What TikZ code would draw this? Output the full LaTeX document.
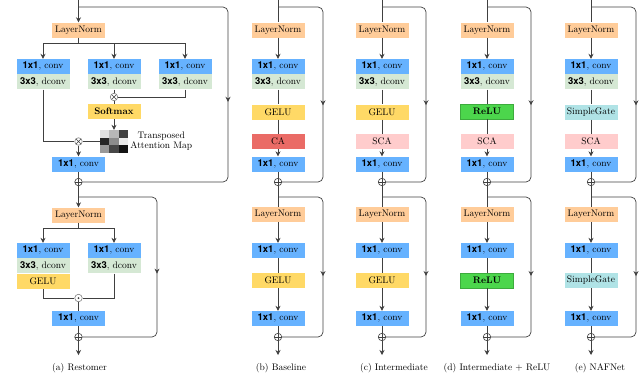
\documentclass[tikz,border=0pt]{standalone}
\usepackage{fontspec}
\usetikzlibrary{arrows.meta, positioning, decorations.markings}

\newfontfamily\herosfont{TeX Gyre Heros}

\definecolor{lnorm}{HTML}{FFCC99}
\definecolor{conv}{HTML}{66B2FF}
\definecolor{dconv}{HTML}{D5E8D4}
\definecolor{gelu}{HTML}{FFD966}
\definecolor{cablk}{HTML}{EA6B66}
\definecolor{scablk}{HTML}{FFCCCC}
\definecolor{relu}{HTML}{4CD64C}
\definecolor{sgate}{HTML}{B0E3E6}
\definecolor{wire}{HTML}{404040}

\newcommand{\convtxt}{{\herosfont\bfseries 1x1}, conv}
\newcommand{\dconvtxt}{{\herosfont\bfseries 3x3}, dconv}

\begin{document}
\begin{tikzpicture}[x=1pt, y=-1pt, font=\fontsize{9.5}{10}\selectfont,
        blk/.style={rectangle, minimum width=53pt, minimum height=15pt, inner sep=0pt},
        lnb/.style={blk, fill=lnorm},
        cvb/.style={blk, fill=conv},
        dcb/.style={blk, fill=dconv},
        glb/.style={blk, fill=gelu},
        cab/.style={blk, fill=cablk},
        scb/.style={blk, fill=scablk},
        rlb/.style={blk, fill=relu, draw=relu!80!black, line width=0.4pt,
                    font=\fontsize{9.5}{10}\selectfont\bfseries},
        sgb/.style={blk, fill=sgate},
        link/.style={draw=wire, line width=0.7pt},
        flow/.style={link, -{Stealth[length=5pt, width=5pt]}},
        bypass/.style={link, rounded corners=5pt, postaction={decorate},
                       decoration={markings, mark=at position #1 with
                                   {\arrow[wire]{Stealth[length=5pt, width=5pt]}}}},
        addop/.style={circle, draw=wire, line width=0.6pt, fill=white,
                      minimum size=7.5pt, inner sep=0pt,
                      path picture={\draw[wire, line width=0.6pt]
                        (path picture bounding box.north) -- (path picture bounding box.south)
                        (path picture bounding box.west) -- (path picture bounding box.east);}},
        mulop/.style={circle, draw=gray, line width=0.6pt, fill=white,
                      minimum size=7.5pt, inner sep=0pt,
                      path picture={\draw[wire, line width=0.6pt]
                        (path picture bounding box.north west) -- (path picture bounding box.south east)
                        (path picture bounding box.south west) -- (path picture bounding box.north east);}},
        dotop/.style={circle, draw=gray, line width=0.6pt, fill=white,
                      minimum size=7.5pt, inner sep=0pt,
                      path picture={\fill[wire] (path picture bounding box.center) circle (1pt);}}]
      \useasboundingbox (0,0) rectangle (640,389);

      % (a) Restomer, upper block
      \coordinate (ain) at (78.5,0);
      \coordinate (as1) at (78.5,7);
      \node[lnb] (aln1) at (78.5,30) {LayerNorm};
      \node[cvb] (ac1) at (43,66.5) {\convtxt};
      \node[dcb, below=0pt of ac1] (ad1) {\dconvtxt};
      \node[cvb] (ac2) at (114,66.5) {\convtxt};
      \node[dcb, below=0pt of ac2] (ad2) {\dconvtxt};
      \node[cvb] (ac3) at (185,66.5) {\convtxt};
      \node[dcb, below=0pt of ac3] (ad3) {\dconvtxt};
      \node[mulop] (ax1) at (114,97) {};
      \node[glb, font=\fontsize{9.5}{10}\selectfont\bfseries] (asm) at (114,111.5) {Softmax};
      \node[minimum width=28pt, minimum height=23pt, inner sep=0pt] (amap) at (114,141.5) {};
      \fill[black!12] (100,130) rectangle ++(9.33,7.67);
      \fill[black!28] (109.33,130) rectangle ++(9.33,7.67);
      \fill[black!75] (118.67,130) rectangle ++(9.33,7.67);
      \fill[black!85] (100,137.67) rectangle ++(9.33,7.67);
      \fill[black!45] (109.33,137.67) rectangle ++(9.33,7.67);
      \fill[black!8] (118.67,137.67) rectangle ++(9.33,7.67);
      \fill[black!40] (100,145.33) rectangle ++(9.33,7.67);
      \fill[black!72] (109.33,145.33) rectangle ++(9.33,7.67);
      \fill[black!92] (118.67,145.33) rectangle ++(9.33,7.67);
      \node[right=2pt of amap, align=center, inner sep=0pt] (amaplab) {Transposed\\Attention Map};
      \node[mulop] (ax2) at (78.5,141.5) {};
      \node[cvb] (ac4) at (78.5,164) {\convtxt};
      \node[addop] (ap1) at (78.5,182) {};
      \draw[flow] (ain) -- (aln1);
      \draw[link] (aln1) -- ++(0,13) coordinate (abr1);
      \draw[flow] (abr1) -| (ac1);
      \draw[flow] (abr1) -| (ac2);
      \draw[flow] (abr1) -| (ac3);
      \draw[link] (ad2) -- (ax1);
      \draw[link] (ad3) |- (ax1);
      \draw[link] (ax1) -- (asm);
      \draw[flow] (asm) -- (amap);
      \draw[link] (ad1) |- (ax2);
      \draw[link] (amap) -- (ax2);
      \draw[flow] (ax2) -- (ac4);
      \draw[link] (ac4) -- (ap1);
      \draw[bypass=0.52] (as1) -- ++(149.5,0) |- (ap1);

      % (a) Restomer, lower block
      \coordinate (as2) at (78.5,197);
      \node[lnb] (aln2) at (78.5,215) {LayerNorm};
      \node[cvb] (ac5) at (43,250.5) {\convtxt};
      \node[dcb, below=0pt of ac5] (ad5) {\dconvtxt};
      \node[glb, below=0pt of ad5] (ag1) {GELU};
      \node[cvb] (ac6) at (114,250.5) {\convtxt};
      \node[dcb, below=0pt of ac6] (ad6) {\dconvtxt};
      \node[dotop] (ao) at (78.5,298) {};
      \node[cvb] (ac7) at (78.5,318.5) {\convtxt};
      \node[addop] (ap2) at (78.5,337) {};
      \coordinate (aout) at (78.5,355);
      \draw[flow] (ap1) -- (aln2);
      \draw[link] (aln2) -- ++(0,13) coordinate (abr2);
      \draw[flow] (abr2) -| (ac5);
      \draw[flow] (abr2) -| (ac6);
      \draw[link] (ag1) |- (ao);
      \draw[link] (ad6) |- (ao);
      \draw[link] (ao) -- (ac7) -- (ap2);
      \draw[flow] (ap2) -- (aout);
      \draw[bypass=0.53] (as2) -- ++(78.5,0) |- (ap2);

      % (b) Baseline
      \coordinate (bin) at (278,0);
      \coordinate (bs1) at (278,7);
      \node[lnb] (bln1) at (278,30) {LayerNorm};
      \node[cvb] (bc1) at (278,66.5) {\convtxt};
      \node[dcb, below=0pt of bc1] (bd1) {\dconvtxt};
      \node[glb] (bg1) at (278,112) {GELU};
      \node[cab] (bca) at (278,141.5) {CA};
      \node[cvb] (bc2) at (278,164) {\convtxt};
      \node[addop] (bp1) at (278,182) {};
      \coordinate (bs2) at (278,197);
      \node[lnb] (bln2) at (278,214.5) {LayerNorm};
      \node[cvb] (bc3) at (278,250.5) {\convtxt};
      \node[glb] (bg2) at (278,280.5) {GELU};
      \node[cvb] (bc4) at (278,318.5) {\convtxt};
      \node[addop] (bp2) at (278,337) {};
      \coordinate (bout) at (278,355);
      \draw[link] (bin) -- (bln1);
      \draw[flow] (bln1) -- (bc1);
      \draw[link] (bd1) -- (bg1) -- (bca);
      \draw[flow] (bca) -- (bc2);
      \draw[link] (bc2) -- (bp1) -- (bln2);
      \draw[flow] (bln2) -- (bc3);
      \draw[link] (bc3) -- (bg2);
      \draw[flow] (bg2) -- (bc4);
      \draw[link] (bc4) -- (bp2);
      \draw[flow] (bp2) -- (bout);
      \draw[bypass=0.55] (bs1) -- ++(45,0) |- (bp1);
      \draw[bypass=0.55] (bs2) -- ++(45,0) |- (bp2);

      % (c) Intermediate
      \coordinate (cin) at (382,0);
      \coordinate (cs1) at (382,7);
      \node[lnb] (cln1) at (382,30) {LayerNorm};
      \node[cvb] (cc1) at (382,66.5) {\convtxt};
      \node[dcb, below=0pt of cc1] (cd1) {\dconvtxt};
      \node[glb] (cg1) at (382,112) {GELU};
      \node[scb] (csca) at (382,141.5) {SCA};
      \node[cvb] (cc2) at (382,164) {\convtxt};
      \node[addop] (cp1) at (382,182) {};
      \coordinate (cs2) at (382,197);
      \node[lnb] (cln2) at (382,214.5) {LayerNorm};
      \node[cvb] (cc3) at (382,250.5) {\convtxt};
      \node[glb] (cg2) at (382,280.5) {GELU};
      \node[cvb] (cc4) at (382,318.5) {\convtxt};
      \node[addop] (cp2) at (382,337) {};
      \coordinate (cout) at (382,355);
      \draw[link] (cin) -- (cln1);
      \draw[flow] (cln1) -- (cc1);
      \draw[link] (cd1) -- (cg1) -- (csca);
      \draw[flow] (csca) -- (cc2);
      \draw[link] (cc2) -- (cp1) -- (cln2);
      \draw[flow] (cln2) -- (cc3);
      \draw[link] (cc3) -- (cg2);
      \draw[flow] (cg2) -- (cc4);
      \draw[link] (cc4) -- (cp2);
      \draw[flow] (cp2) -- (cout);
      \draw[bypass=0.55] (cs1) -- ++(44,0) |- (cp1);
      \draw[bypass=0.55] (cs2) -- ++(44,0) |- (cp2);

      % (d) Intermediate + ReLU
      \coordinate (din) at (487,0);
      \coordinate (ds1) at (487,7);
      \node[lnb] (dln1) at (487,30) {LayerNorm};
      \node[cvb] (dc1) at (487,66.5) {\convtxt};
      \node[dcb, below=0pt of dc1] (dd1) {\dconvtxt};
      \node[rlb] (dr1) at (487,111.5) {ReLU};
      \node[scb] (dsca) at (487,141.5) {SCA};
      \node[cvb] (dc2) at (487,164) {\convtxt};
      \node[addop] (dp1) at (487,182) {};
      \coordinate (ds2) at (487,197);
      \node[lnb] (dln2) at (487,214.5) {LayerNorm};
      \node[cvb] (dc3) at (487,250.5) {\convtxt};
      \node[rlb] (dr2) at (487,280.5) {ReLU};
      \node[cvb] (dc4) at (487,318.5) {\convtxt};
      \node[addop] (dp2) at (487,337) {};
      \coordinate (dout) at (487,355);
      \draw[link] (din) -- (dln1);
      \draw[flow] (dln1) -- (dc1);
      \draw[link] (dd1) -- (dr1) -- (dsca);
      \draw[flow] (dsca) -- (dc2);
      \draw[link] (dc2) -- (dp1) -- (dln2);
      \draw[flow] (dln2) -- (dc3);
      \draw[link] (dc3) -- (dr2);
      \draw[flow] (dr2) -- (dc4);
      \draw[link] (dc4) -- (dp2);
      \draw[flow] (dp2) -- (dout);
      \draw[bypass=0.55] (ds1) -- ++(44,0) |- (dp1);
      \draw[bypass=0.55] (ds2) -- ++(44,0) |- (dp2);

      % (e) NAFNet
      \coordinate (ein) at (591,0);
      \coordinate (es1) at (591,7);
      \node[lnb] (eln1) at (591,30) {LayerNorm};
      \node[cvb] (ec1) at (591,66.5) {\convtxt};
      \node[dcb, below=0pt of ec1] (ed1) {\dconvtxt};
      \node[sgb] (esg1) at (591,112) {SimpleGate};
      \node[scb] (esca) at (591,141.5) {SCA};
      \node[cvb] (ec2) at (591,164) {\convtxt};
      \node[addop] (ep1) at (591,182) {};
      \coordinate (es2) at (591,197);
      \node[lnb] (eln2) at (591,214.5) {LayerNorm};
      \node[cvb] (ec3) at (591,250.5) {\convtxt};
      \node[sgb] (esg2) at (591,280.5) {SimpleGate};
      \node[cvb] (ec4) at (591,318.5) {\convtxt};
      \node[addop] (ep2) at (591,337) {};
      \coordinate (eout) at (591,355);
      \draw[link] (ein) -- (eln1);
      \draw[flow] (eln1) -- (ec1);
      \draw[link] (ed1) -- (esg1) -- (esca);
      \draw[flow] (esca) -- (ec2);
      \draw[link] (ec2) -- (ep1) -- (eln2);
      \draw[flow] (eln2) -- (ec3);
      \draw[link] (ec3) -- (esg2);
      \draw[flow] (esg2) -- (ec4);
      \draw[link] (ec4) -- (ep2);
      \draw[flow] (ep2) -- (eout);
      \draw[bypass=0.55] (es1) -- ++(45,0) |- (ep1);
      \draw[bypass=0.55] (es2) -- ++(45,0) |- (ep2);

      % captions
      \node (acap) at (79.5,368) {(a) Restomer};
      \node (bcap) at (281,368) {(b) Baseline};
      \node (ccap) at (394,368) {(c) Intermediate};
      \node (dcap) at (497,368) {(d) Intermediate + ReLU};
      \node (ecap) at (600,368) {(e) NAFNet};
    \end{tikzpicture}
\end{document}
